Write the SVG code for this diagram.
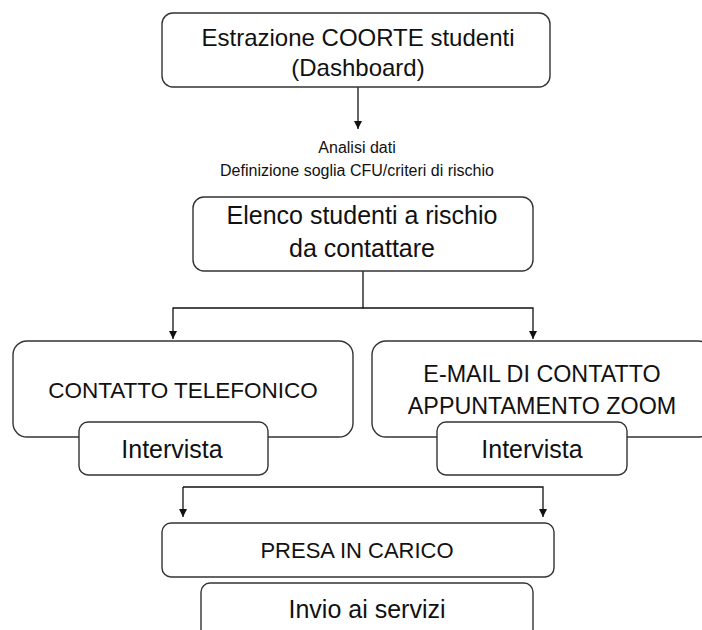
<svg xmlns="http://www.w3.org/2000/svg" width="702" height="630" viewBox="0 0 702 630">
<defs>
<style>
.box{fill:#fff;stroke:#333;stroke-width:1.4}
.t{font-family:"Liberation Sans",Arial,sans-serif;font-size:25px;fill:#111;text-anchor:middle}
.u{font-family:"Liberation Sans",Arial,sans-serif;font-size:22.5px;fill:#111;text-anchor:middle}
.s{font-family:"Liberation Sans",Arial,sans-serif;font-size:16px;fill:#111;text-anchor:middle}
.c{fill:none;stroke:#111;stroke-width:1.3}
</style>
<marker id="ah" viewBox="0 0 10 10" refX="10" refY="5" markerWidth="8" markerHeight="8" markerUnits="userSpaceOnUse" orient="auto">
<path d="M0,0 L10,5 L0,10 Z" fill="#111"/>
</marker>
</defs>
<rect width="702" height="630" fill="#fff"/>
<g id="connectors">
<path class="c" d="M358,87 V129" marker-end="url(#ah)"/>
<path class="c" d="M363,271 V308 H173 V339" marker-end="url(#ah)"/>
<path class="c" d="M363,308 H533 V339" marker-end="url(#ah)"/>
<path class="c" d="M183,487 H543 V517" marker-end="url(#ah)"/>
<path class="c" d="M183,487 V517" marker-end="url(#ah)"/>
</g>
<g id="estrazione">
<rect class="box" x="162" y="13" width="388" height="74" rx="11"/>
<text class="t" x="358" y="46" style="font-size:24px">Estrazione COORTE studenti</text>
<text class="t" x="358" y="76" style="font-size:24px">(Dashboard)</text>
</g>
<g id="analisi">
<text class="s" x="357" y="153">Analisi dati</text>
<text class="s" x="357" y="176">Definizione soglia CFU/criteri di rischio</text>
</g>
<g id="elenco">
<rect class="box" x="193" y="197" width="340" height="74" rx="11"/>
<text class="t" x="362" y="224">Elenco studenti a rischio</text>
<text class="t" x="362" y="257">da contattare</text>
</g>
<g id="telefonico">
<rect class="box" x="13" y="341" width="340" height="96" rx="14"/>
<text class="u" x="183" y="398">CONTATTO TELEFONICO</text>
</g>
<g id="intervista1">
<rect class="box" x="79" y="422" width="189" height="53" rx="9"/>
<text class="t" x="172" y="458">Intervista</text>
</g>
<g id="email">
<rect class="box" x="372" y="341" width="340" height="96" rx="14"/>
<text class="u" x="542" y="382" style="font-size:23.3px">E-MAIL DI CONTATTO</text>
<text class="u" x="542" y="414" style="font-size:23.3px">APPUNTAMENTO ZOOM</text>
</g>
<g id="intervista2">
<rect class="box" x="437" y="422" width="190" height="53" rx="9"/>
<text class="t" x="532" y="458">Intervista</text>
</g>
<g id="presa">
<rect class="box" x="162" y="523" width="392" height="54" rx="9"/>
<text class="u" x="357" y="558" style="font-size:22px">PRESA IN CARICO</text>
</g>
<g id="invio">
<rect class="box" x="201" y="583" width="332" height="70" rx="9"/>
<text class="t" x="367" y="618">Invio ai servizi</text>
</g>
</svg>
